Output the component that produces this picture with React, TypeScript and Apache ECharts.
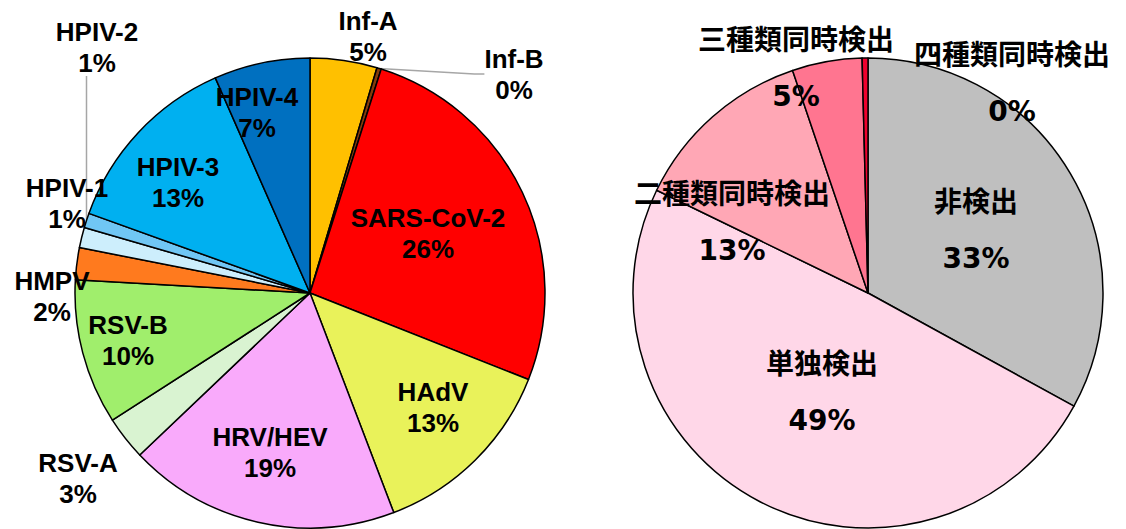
import React, { useEffect, useRef } from "react";
import * as echarts from "echarts";

// Left pie: virus breakdown (percent share, clockwise from 12 o'clock)
const virusNames = [
  "Inf-A", "Inf-B", "SARS-CoV-2", "HAdV", "HRV/HEV", "RSV-A",
  "RSV-B", "HMPV", "HPIV-1", "HPIV-2", "HPIV-3", "HPIV-4",
];
const virusValues = [4.6, 0.3, 26.1, 13.2, 18.7, 3.0, 10.0, 2.2, 1.4, 1.0, 12.9, 6.6];
const virusColors = [
  "#FFC000", "#843C0C", "#FF0000", "#E9F25A", "#F9AAFB", "#D9F3D1",
  "#A0EE6C", "#FF7A1E", "#CDEEFC", "#70C6F4", "#00B0F0", "#0070C0",
];

// Right pie: detection result breakdown
const detectNames = ["非検出", "単独検出", "二種類同時検出", "三種類同時検出", "四種類同時検出"];
const detectValues = [33.0, 49.2, 12.6, 4.8, 0.4];
const detectColors = ["#BFBFBF", "#FFD7E8", "#FFA7B5", "#FF7590", "#F0002E"];

// label anchor positions (block centres, px)
const virusLabelPos: number[][] = [
  [368, 36], [514, 74], [428, 233], [433, 407], [270, 452], [78, 478],
  [128, 340], [52, 296], [67, 203], [97, 47], [178, 182], [257, 112],
];
const detectLabelPos: number[][] = [
  [976, 230], [822, 392], [732, 222], [796, 68], [1012, 83],
];
const leaderIdx = [1, 9];
const verticalLeaderIdx = 9;

function pct(v: number, arr: number[]) {
  const s = arr.reduce((a, b) => a + b, 0);
  return Math.round((v / s) * 100) + "%";
}

export default function App() {
  const ref = useRef<HTMLDivElement>(null);
  useEffect(() => {
    document.body.style.margin = "0";
    const chart = echarts.init(ref.current!, null, { renderer: "svg" });
    const leftData = virusNames.map((n, i) => ({
      name: n,
      value: virusValues[i],
      itemStyle: { color: virusColors[i] },
      label: { position: leaderIdx.includes(i) ? "outside" : "inside" },
      labelLine: { show: leaderIdx.includes(i) },
    }));
    const rightData = detectNames.map((n, i) => ({
      name: n,
      value: detectValues[i],
      itemStyle: { color: detectColors[i] },
    }));
    chart.setOption({
      animation: false,
      series: [
        {
          type: "pie",
          center: [310, 293],
          radius: 235,
          startAngle: 90,
          clockwise: true,
          data: leftData,
          itemStyle: { borderColor: "#000", borderWidth: 1.5 },
          label: {
            show: true,
            overflow: "none",
            alignTo: "none",
            formatter: (p: any) => p.name + "\n" + pct(p.value, virusValues),
            fontFamily: "'Liberation Sans', Arial, sans-serif",
            fontWeight: "bold",
            fontSize: 26,
            lineHeight: 31,
            color: "#000",
          },
          labelLine: {
            show: false,
            lineStyle: { color: "#A6A6A6", width: 1.5 },
            length: 10,
            length2: 10,
          },
          labelLayout: (params: any) => {
            const p = virusLabelPos[params.dataIndex];
            const out: any = { x: p[0], y: p[1], align: "center", verticalAlign: "middle" };
            if (params.dataIndex === verticalLeaderIdx && params.labelLinePoints) {
              const s = params.labelLinePoints[0];
              const bottom = p[1] + params.labelRect.height / 2 - 2;
              out.labelLinePoints = [
                [s[0], s[1]],
                [s[0], (s[1] + bottom) / 2],
                [s[0], bottom],
              ];
            }
            return out;
          },
          emphasis: { disabled: true },
        },
        {
          type: "pie",
          center: [868, 293],
          radius: 235,
          startAngle: 90,
          clockwise: true,
          data: rightData,
          itemStyle: { borderColor: "#000", borderWidth: 1.5 },
          label: {
            show: true,
            position: "inside",
            overflow: "none",
            formatter: (p: any) => p.name + "\n" + pct(p.value, detectValues),
            fontFamily: "'DejaVu Sans', 'Noto Sans CJK JP', sans-serif",
            fontWeight: "bold",
            fontSize: 28,
            lineHeight: 56,
            color: "#000",
          },
          labelLine: { show: false },
          labelLayout: (params: any) => {
            const p = detectLabelPos[params.dataIndex];
            return { x: p[0], y: p[1], align: "center", verticalAlign: "middle" };
          },
          emphasis: { disabled: true },
        },
      ],
    });
    return () => chart.dispose();
  }, []);
  return <div ref={ref} style={{ width: 1126, height: 529 }} />;
}
